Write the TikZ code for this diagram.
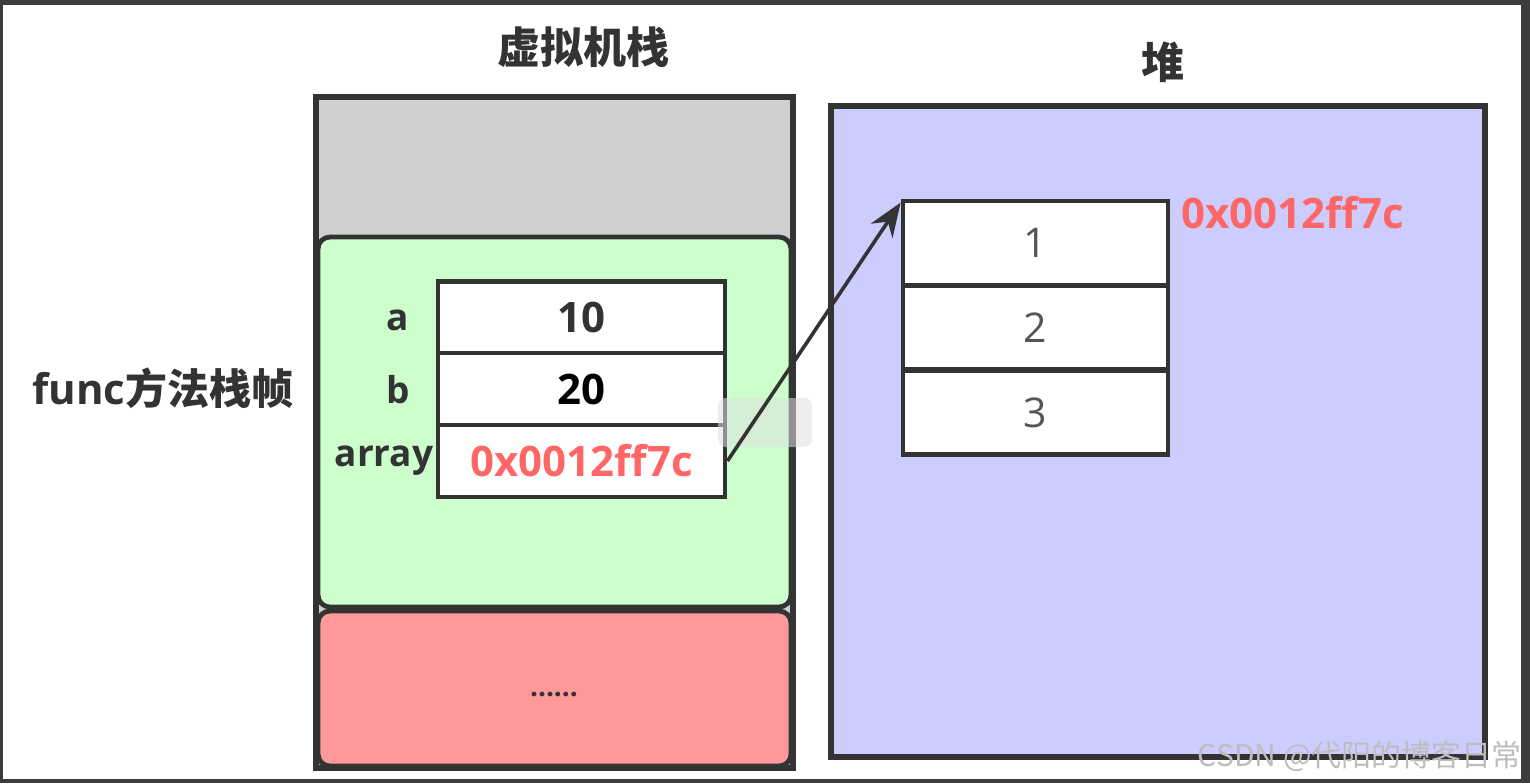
\documentclass[tikz,border=0pt]{standalone}
\usepackage{fontspec}
\setmainfont{Open Sans}
\newfontfamily\cjk{Noto Sans CJK SC}
\usetikzlibrary{arrows.meta}
\definecolor{frame}{HTML}{3C3C3C}
\definecolor{ink}{HTML}{333333}
\definecolor{greyfill}{HTML}{CFCFCF}
\definecolor{greenfill}{HTML}{CCFFCC}
\definecolor{redfill}{HTML}{FF9999}
\definecolor{bluefill}{HTML}{CCCCFF}
\definecolor{redtext}{HTML}{FF6666}
\definecolor{numtext}{HTML}{555555}
\definecolor{wm}{HTML}{BDBDBD}
\tikzset{
  stackcell/.style={draw=ink, line width=2.4pt, fill=white, minimum width=143.5pt, minimum height=36pt, inner sep=0pt, font=\fontsize{21}{24}\selectfont\bfseries, text=ink},
  heapcell/.style={draw=ink, line width=2.4pt, fill=white, minimum width=132.5pt, minimum height=42pt, inner sep=0pt, font=\fontsize{20.5}{24}\selectfont, text=numtext},
  varlabel/.style={font=\fontsize{18.5}{22}\selectfont\bfseries, text=ink, inner sep=0pt},
  title/.style={font=\fontsize{21.5}{24}\selectfont\cjk\bfseries, text=ink, inner sep=0pt},
  area/.style={draw=ink, line width=2.4pt},
  ptr/.style={draw=ink, line width=1.8pt, -{Stealth[length=17pt,width=13pt]}}
}
\begin{document}
\begin{tikzpicture}[x=0.5pt,y=-0.5pt]
\useasboundingbox (0,0) rectangle (1530,783);
\fill[frame] (0,0) rectangle (1530,783);
\fill[white] (3,5) rectangle (1521,779);

% titles
\node[title] (ttl1) at (583,47) {虚拟机栈};
\node[title] (ttl2) at (1163,62) {堆};

% stack
\fill[greyfill] (316,97) rectangle (793,768);
\draw[area, fill=greenfill, rounded corners=6pt] (318,237) rectangle (791,607);
\draw[area, fill=redfill, rounded corners=6pt] (318,611) rectangle (791,766);
\draw[area, line width=2.8pt] (316,97) rectangle (793,768);
\node[font=\fontsize{14}{16}\selectfont\bfseries, text=ink] (dots) at (554,695) {......};

% frame label
\node[font=\fontsize{21}{24}\selectfont\bfseries, text=ink, inner sep=0pt] (fl) at (163,388) {func{\cjk 方法栈帧}};

% stack cells
\node[stackcell] (c1) at (581.5,317.5) {10};
\node[stackcell] (c2) at (581.5,389) {\textcolor{black}{20}};
\node[stackcell, text=redtext] (c3) at (581.5,461) {0x0012ff7c};
\node[varlabel] (la) at (398,320) {a};
\node[varlabel] (lb) at (398,390) {b};
\node[varlabel] (lc) at (384,461) {array};

% heap
\draw[area, fill=bluefill, line width=2.8pt] (831,106) rectangle (1485,757);
\node[heapcell] (h1) at (1035.5,243) {1};
\node[heapcell] (h2) at (1035.5,327.5) {2};
\node[heapcell] (h3) at (1035.5,412.5) {3};
\node[font=\fontsize{21}{24}\selectfont\bfseries, text=redtext, inner sep=0pt, anchor=west] (addr) at (1181,213) {0x0012ff7c};

% faint overlay
\fill[gray!25, opacity=0.55, rounded corners=4pt] (718,398) rectangle (812,447);

% pointer
\draw[ptr] (c3.east) -- ([yshift=-2pt]h1.north west);

% watermark
\node[font=\fontsize{15}{17}\selectfont\cjk, text=wm, anchor=east, inner sep=0pt] (wmk) at (1522,756) {CSDN @代阳的博客日常};
\end{tikzpicture}
\end{document}
